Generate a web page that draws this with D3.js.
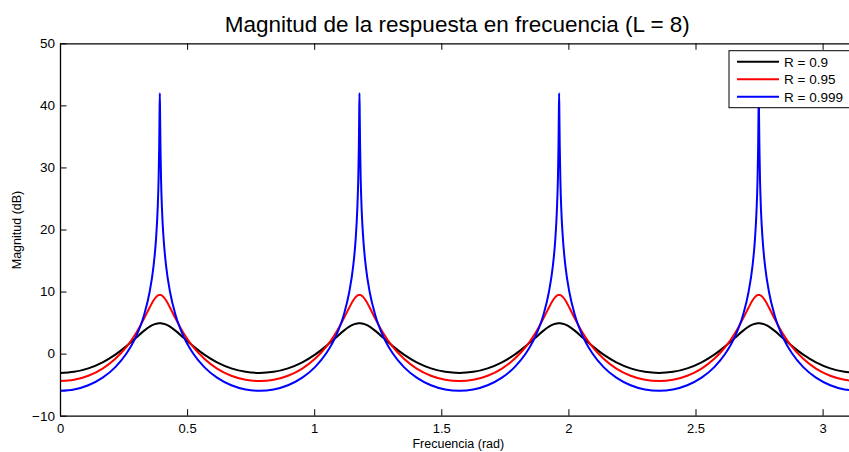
<!DOCTYPE html>
<html><head><meta charset="utf-8">
<script src="https://cdn.jsdelivr.net/npm/d3@7"></script>
<style>body{margin:0;background:#fff}svg{display:block}text{font-family:"Liberation Sans",Arial,Helvetica,sans-serif}</style>
</head><body><svg id="c" width="849" height="452"></svg>
<script>
// Frequency samples (rad)
const freq = [
0,0.0552,0.1114,0.1677,0.2177,0.2614,0.2989,0.3302,0.3527,0.3677,0.3777,0.3839,0.3877,0.3902,0.3914,0.3927,0.3939,0.3952,0.3977,0.4014,0.4077,0.4177,0.4327,0.4552,0.4864,0.5239,0.5677,0.6177,0.6739,0.7302,
0.7854,0.8406,0.8968,0.9531,1.0031,1.0468,1.0843,1.1156,1.1381,1.1531,1.1631,1.1693,1.1731,1.1756,1.1768,1.1781,1.1793,1.1806,1.1831,1.1868,1.1931,1.2031,1.2181,1.2406,1.2718,1.3093,1.3531,1.4031,1.4593,1.5156,
1.5708,1.6260,1.6822,1.7385,1.7885,1.8322,1.8697,1.9010,1.9235,1.9385,1.9485,1.9547,1.9585,1.9610,1.9622,1.9635,1.9647,1.9660,1.9685,1.9722,1.9785,1.9885,2.0035,2.0260,2.0572,2.0947,2.1385,2.1885,2.2447,2.3010,
2.3562,2.4114,2.4676,2.5239,2.5739,2.6176,2.6551,2.6864,2.7089,2.7239,2.7339,2.7401,2.7439,2.7464,2.7476,2.7489,2.7501,2.7514,2.7539,2.7576,2.7639,2.7739,2.7889,2.8114,2.8426,2.8801,2.9239,2.9739,3.0301,3.0864,
3.1416];

const magR090 = [
-3.11,-2.93,-2.37,-1.40,-0.17,1.21,2.55,3.67,4.34,4.67,4.81,4.86,4.88,4.89,4.89,4.89,4.89,4.89,4.88,4.86,4.81,4.67,4.34,3.67,2.55,1.21,-0.17,-1.40,-2.37,-2.93,
-3.11,-2.93,-2.37,-1.40,-0.17,1.21,2.55,3.67,4.34,4.67,4.81,4.86,4.88,4.89,4.89,4.89,4.89,4.89,4.88,4.86,4.81,4.67,4.34,3.67,2.55,1.21,-0.17,-1.40,-2.37,-2.93,
-3.11,-2.93,-2.37,-1.40,-0.17,1.21,2.55,3.67,4.34,4.67,4.81,4.86,4.88,4.89,4.89,4.89,4.89,4.89,4.88,4.86,4.81,4.67,4.34,3.67,2.55,1.21,-0.17,-1.40,-2.37,-2.93,
-3.11,-2.93,-2.37,-1.40,-0.17,1.21,2.55,3.67,4.34,4.67,4.81,4.86,4.88,4.89,4.89,4.89,4.89,4.89,4.88,4.86,4.81,4.67,4.34,3.67,2.55,1.21,-0.17,-1.40,-2.37,-2.93,
-3.11];

const magR095 = [
-4.42,-4.22,-3.57,-2.41,-0.84,1.08,3.29,5.60,7.43,8.55,9.11,9.34,9.42,9.45,9.46,9.46,9.46,9.45,9.42,9.34,9.11,8.55,7.43,5.60,3.29,1.08,-0.84,-2.41,-3.57,-4.22,
-4.42,-4.22,-3.57,-2.41,-0.84,1.08,3.29,5.60,7.43,8.55,9.11,9.34,9.42,9.45,9.46,9.46,9.46,9.45,9.42,9.34,9.11,8.55,7.43,5.60,3.29,1.08,-0.84,-2.41,-3.57,-4.22,
-4.42,-4.22,-3.57,-2.41,-0.84,1.08,3.29,5.60,7.43,8.55,9.11,9.34,9.42,9.45,9.46,9.46,9.46,9.45,9.42,9.34,9.11,8.55,7.43,5.60,3.29,1.08,-0.84,-2.41,-3.57,-4.22,
-4.42,-4.22,-3.57,-2.41,-0.84,1.08,3.29,5.60,7.43,8.55,9.11,9.34,9.42,9.45,9.46,9.46,9.46,9.45,9.42,9.34,9.11,8.55,7.43,5.60,3.29,1.08,-0.84,-2.41,-3.57,-4.22,
-4.42];

const magR0999 = [
-5.99,-5.77,-5.09,-3.87,-2.17,0.01,2.74,6.15,9.97,14.02,18.44,23.08,27.82,33.37,37.89,41.97,37.89,33.37,27.82,23.08,18.44,14.02,9.97,6.15,2.74,0.01,-2.17,-3.87,-5.09,-5.77,
-5.99,-5.77,-5.09,-3.87,-2.17,0.01,2.74,6.15,9.97,14.02,18.44,23.08,27.82,33.37,37.89,41.97,37.89,33.37,27.82,23.08,18.44,14.02,9.97,6.15,2.74,0.01,-2.17,-3.87,-5.09,-5.77,
-5.99,-5.77,-5.09,-3.87,-2.17,0.01,2.74,6.15,9.97,14.02,18.44,23.08,27.82,33.37,37.89,41.97,37.89,33.37,27.82,23.08,18.44,14.02,9.97,6.15,2.74,0.01,-2.17,-3.87,-5.09,-5.77,
-5.99,-5.77,-5.09,-3.87,-2.17,0.01,2.74,6.15,9.97,14.02,18.44,23.08,27.82,33.37,37.89,41.97,37.89,33.37,27.82,23.08,18.44,14.02,9.97,6.15,2.74,0.01,-2.17,-3.87,-5.09,-5.77,
-5.99];

const seriesNames = ["R = 0.9", "R = 0.95", "R = 0.999"];
const seriesColors = ["#000000", "#ff0000", "#0000ff"];
const xTicks = [0, 0.5, 1, 1.5, 2, 2.5, 3];
const xTickLabels = ["0", "0.5", "1", "1.5", "2", "2.5", "3"];
const yTicks = [-10, 0, 10, 20, 30, 40, 50];
const yTickLabels = ["\u221210", "0", "10", "20", "30", "40", "50"];
const titleText = "Magnitud de la respuesta en frecuencia (L = 8)";
const xLabel = "Frecuencia (rad)";
const yLabel = "Magnitud (dB)";

const L = 60, R = 858.6, T = 43.3, B = 415.7;
const svg = d3.select("#c");
const x = d3.scaleLinear().domain([0, Math.PI]).range([L, R]);
const y = d3.scaleLinear().domain([-10, 50]).range([B, T]);

svg.append("defs").append("clipPath").attr("id", "clip")
  .append("rect").attr("x", L).attr("y", T).attr("width", R - L).attr("height", B - T);

const allSeries = [magR090, magR095, magR0999];
const line = d3.line().x((d, i) => x(freq[i])).y(d => y(d)).curve(d3.curveMonotoneX);
const g = svg.append("g").attr("clip-path", "url(#clip)");
allSeries.forEach((s, k) => {
  g.append("path").attr("d", line(s)).attr("fill", "none")
    .attr("stroke", seriesColors[k]).attr("stroke-width", 2).attr("stroke-linejoin", "round");
});

// axes box
const tickLen = 6.5;
const axB = svg.append("g").attr("transform", `translate(0,${B})`)
  .call(d3.axisBottom(x).tickValues(xTicks).tickFormat((d, i) => xTickLabels[i]).tickSizeInner(-tickLen).tickSizeOuter(0).tickPadding(10));
const axT = svg.append("g").attr("transform", `translate(0,${T})`)
  .call(d3.axisTop(x).tickValues(xTicks).tickFormat("").tickSizeInner(-tickLen).tickSizeOuter(0));
const axL = svg.append("g").attr("transform", `translate(${L},0)`)
  .call(d3.axisLeft(y).tickValues(yTicks).tickFormat((d, i) => yTickLabels[i]).tickSizeInner(-tickLen).tickSizeOuter(0).tickPadding(5));
const axR = svg.append("g").attr("transform", `translate(${R},0)`)
  .call(d3.axisRight(y).tickValues(yTicks).tickFormat("").tickSizeInner(-tickLen).tickSizeOuter(0));
[axB, axT, axL, axR].forEach(a => {
  a.select(".domain").attr("stroke", "#000").attr("stroke-width", 1.3);
  a.selectAll(".tick line").attr("stroke", "#000").attr("stroke-width", 1);
  a.selectAll("text").attr("fill", "#000").style("font-size", "13.5px").style("font-family", '"Liberation Sans",Arial,sans-serif');
});
axB.selectAll(".tick text").style("font-size", "13px").attr("dy", null).attr("y", 17.5);
axL.selectAll(".tick text").attr("x", -5);

// title and labels
svg.append("text").attr("x", (L + R) / 2 - 2).attr("y", 32).attr("text-anchor", "middle")
  .style("font-size", "22.5px").text(titleText);
svg.append("text").attr("x", (L + R) / 2 - 1).attr("y", 448).attr("text-anchor", "middle")
  .style("font-size", "12.5px").text(xLabel);
svg.append("text").attr("transform", `translate(21,230) rotate(-90)`).attr("text-anchor", "middle")
  .style("font-size", "12.5px").text(yLabel);

// legend
const lg = svg.append("g");
const lx = 729, ly = 50.7, lw = 125, lh = 57;
lg.append("rect").attr("x", lx).attr("y", ly).attr("width", lw).attr("height", lh)
  .attr("fill", "#fff").attr("stroke", "#000").attr("stroke-width", 1);
seriesNames.forEach((n, k) => {
  const yy = 61.7 + k * 17.5;
  lg.append("line").attr("x1", 737).attr("x2", 779).attr("y1", yy).attr("y2", yy)
    .attr("stroke", seriesColors[k]).attr("stroke-width", 2);
  lg.append("text").attr("x", 784).attr("y", yy).attr("dy", "0.36em")
    .style("font-size", "13.5px").text(n);
});
</script></body></html>
